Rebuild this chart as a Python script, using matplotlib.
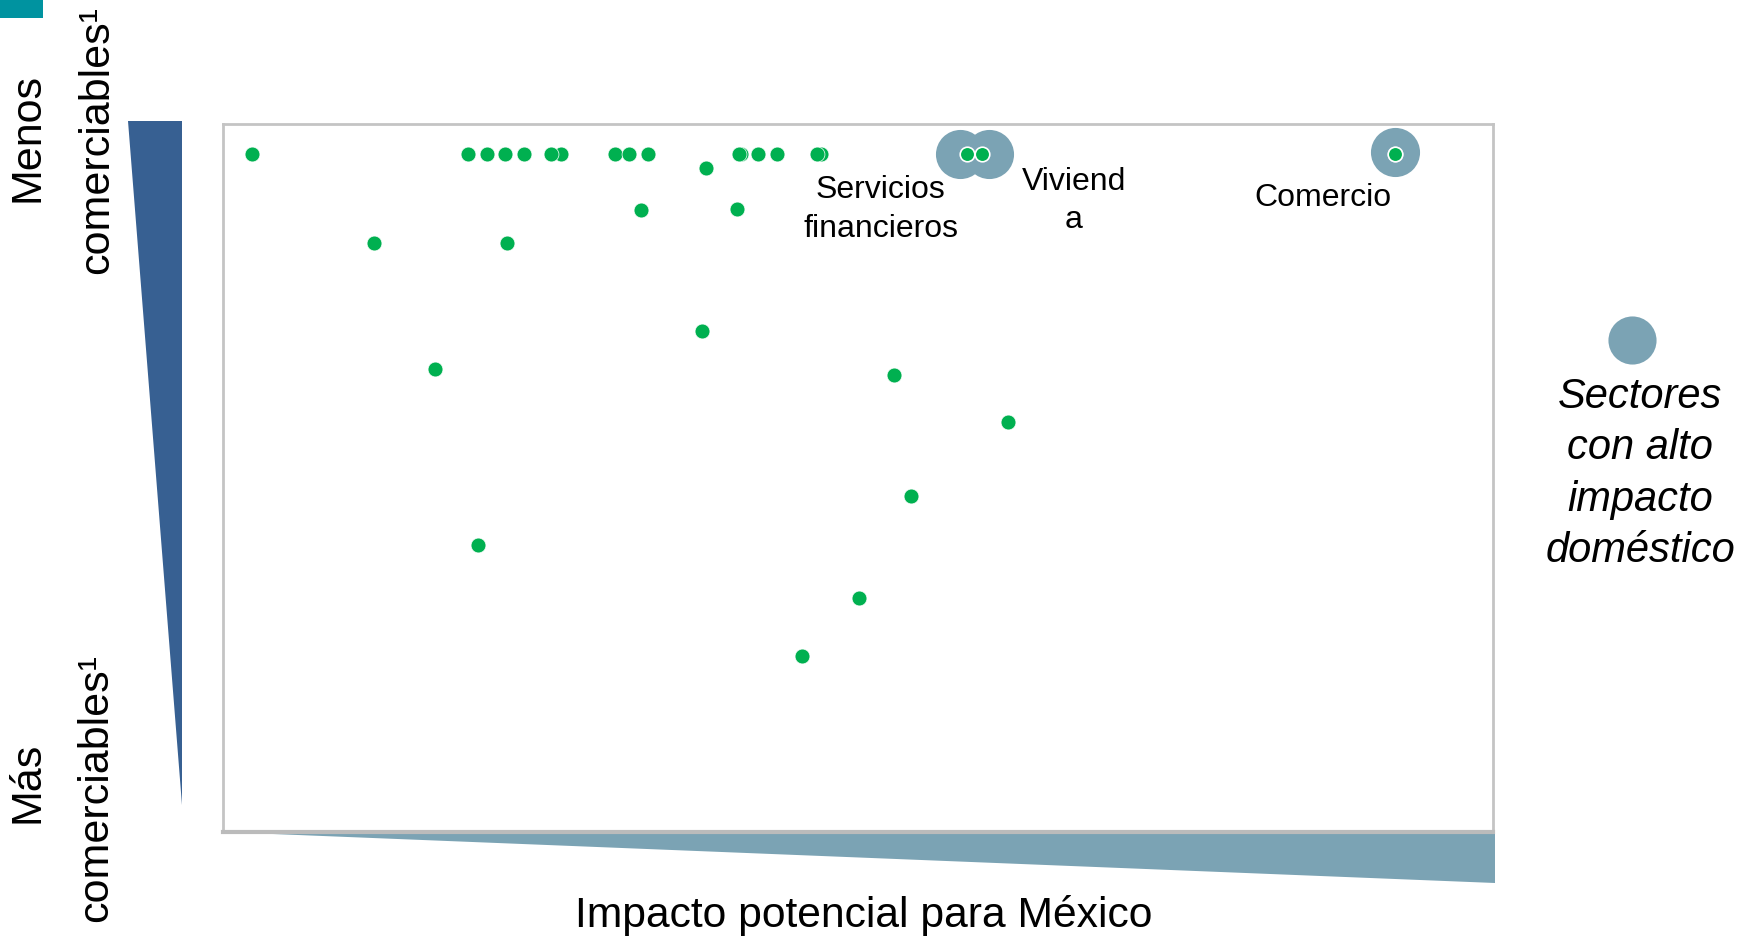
import matplotlib.pyplot as plt
from matplotlib.patches import Polygon, Rectangle

plt.rcParams['font.family'] = ['Liberation Sans', 'DejaVu Sans']

# data: sectors (x = impacto potencial, y = comerciabilidad, 0-100 scale)
sector_x = [2.3, 19.3, 20.8, 22.2, 23.7, 26.6, 25.8, 30.9, 32.0, 33.5,
            40.8, 40.6, 42.1, 43.6, 47.1, 46.8, 92.3,
            38.0, 32.9, 11.9, 22.4, 40.5, 37.7, 16.7, 52.8, 61.8,
            54.2, 20.1, 50.1, 45.6]
sector_y = [95.8, 95.8, 95.8, 95.8, 95.8, 95.8, 95.8, 95.8, 95.8, 95.8,
            95.8, 95.8, 95.8, 95.8, 95.8, 95.8, 95.8,
            93.8, 87.8, 83.2, 83.2, 88.0, 70.8, 65.4, 64.6, 57.9,
            47.4, 40.6, 33.0, 24.8]

# sectores con alto impacto domestico
highlight_names = ['Servicios\nfinancieros', 'Viviend\na', 'Comercio']
highlight_bubble_x = [58.0, 60.3, 92.3]
highlight_bubble_y = [95.8, 95.8, 96.0]
highlight_x = [58.6, 59.8, 92.3]
highlight_y = [95.8, 95.8, 95.8]
label_x = [51.8, 67.0, 86.6]
label_y = [87.9, 89.1, 89.6]

green = '#00B050'
bubble = '#7BA3B4'
navy = '#376092'

fig = plt.figure(figsize=(17.42, 9.38), dpi=100)

# background overlay for the wedges (pixel coordinates)
bg = fig.add_axes([0, 0, 1, 1], zorder=0)
bg.set_xlim(0, 1742)
bg.set_ylim(938, 0)
bg.axis('off')
bg.add_patch(Rectangle((0, 0), 43, 18, color='#0093A0', lw=0))
bg.add_patch(Polygon([(128, 121), (182, 121), (182, 805)], closed=True, color=navy, lw=0))
bg.add_patch(Polygon([(223, 832), (1495, 832), (1495, 883)], closed=True, color=bubble, lw=0))
bg.scatter([1632], [340], s=1200, color=bubble, lw=0)

ax = fig.add_axes([223 / 1742, 106 / 938, 1270 / 1742, 708 / 938], zorder=1)
ax.patch.set_alpha(0)
ax.set_xlim(0, 100)
ax.set_ylim(0, 100)
ax.set_xticks([])
ax.set_yticks([])
for side in ax.spines.values():
    side.set_color('#C4C4C4')
    side.set_linewidth(2)
ax.spines['bottom'].set_linewidth(3)
ax.spines['bottom'].set_color('#BBBBBB')

ax.scatter(highlight_bubble_x, highlight_bubble_y, s=1250, color=bubble, lw=0, zorder=2)
ax.scatter(sector_x, sector_y, s=115, color=green, edgecolor='white', lw=0.5, zorder=3)
ax.scatter(highlight_x, highlight_y, s=110, color=green, edgecolor='white', lw=1.2, zorder=4)

for name, lx, ly in zip(highlight_names, label_x, label_y):
    ax.text(lx, ly, name, ha='center', va='center', fontsize=23, linespacing=1.37)

# axis captions
fig.text(28 / 1742, 1 - 137 / 938, 'Menos', rotation=90, ha='center', va='center', fontsize=31)
fig.text(97 / 1742, 1 - 140 / 938, 'comerciables\u00b9', rotation=90, ha='center', va='center', fontsize=31)
fig.text(28 / 1742, 1 - 782 / 938, 'Más', rotation=90, ha='center', va='center', fontsize=31)
fig.text(96 / 1742, 1 - 788 / 938, 'comerciables\u00b9', rotation=90, ha='center', va='center', fontsize=31)
fig.text(864 / 1742, 1 - 927 / 938, 'Impacto potencial para México', ha='center', va='baseline', fontsize=30.7)

fig.text(1640 / 1742, 1 - 474 / 938, 'Sectores\ncon alto\nimpacto\ndoméstico',
         ha='center', va='center', fontsize=30, style='italic', linespacing=1.36)

fig.savefig('out.png', dpi=100)
